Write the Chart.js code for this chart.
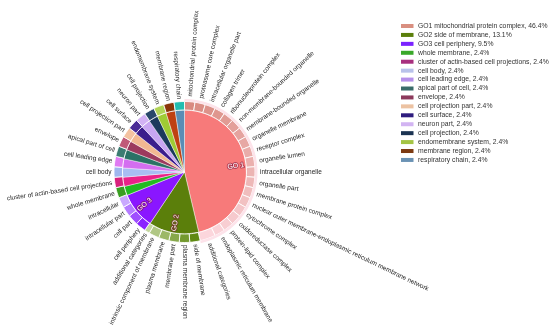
<!DOCTYPE html>
<html><head><meta charset="utf-8">
<script src="https://cdn.jsdelivr.net/npm/chart.js@4.4.1/dist/chart.umd.min.js"></script>
<style>html,body{margin:0;padding:0;background:#fff;}#wrap{width:550px;height:329px;position:relative;}</style>
</head><body><div id="wrap"><canvas id="c" width="550" height="329"></canvas></div>
<script>
// ---- data ----
const groupNames = ['GO1 mitochondrial protein complex','GO2 side of membrane','GO3 cell periphery','whole membrane','cluster of actin-based cell projections','cell body','cell leading edge','apical part of cell','envelope','cell projection part','cell surface','neuron part','cell projection','endomembrane system','membrane region','respiratory chain'];
const groupPercent = [46.4,13.1,9.5,2.4,2.4,2.4,2.4,2.4,2.4,2.4,2.4,2.4,2.4,2.4,2.4,2.4];
const groupTags = ['GO 1','GO 2','GO 3','','','','','','','','','','','','',''];
const termLabels = [
 'mitochondrial protein complex','proteasome core complex','intracellular organelle part','collagen trimer','ribonucleoprotein complex','non-membrane-bounded organelle','membrane-bounded organelle','organelle membrane','receptor complex','organelle lumen','intracellular organelle','organelle part','membrane protein complex','nuclear outer membrane-endoplasmic reticulum membrane network','cytochrome complex','oxidoreductase complex','protein-lipid complex','endoplasmic reticulum membrane','additional categories',
 'side of membrane','plasma membrane region','membrane part','plasma membrane','intrinsic component of membrane','additional categories',
 'cell periphery','cell part','intracellular part','intracellular',
 'whole membrane','cluster of actin-based cell projections','cell body','cell leading edge','apical part of cell','envelope','cell projection part','cell surface','neuron part','cell projection','endomembrane system','membrane region','respiratory chain'];
const termValues = [2,2,2,2,2,2,2,2,2,2,2,2,2,2,2,2,2,2,3, 2,2,2,2,2,1, 2,2,2,2, 2,2,2,2,2,2,2,2,2,2,2,2,2];
const termGroup  = [0,0,0,0,0,0,0,0,0,0,0,0,0,0,0,0,0,0,0, 1,1,1,1,1,1, 2,2,2,2, 3,4,5,6,7,8,9,10,11,12,13,14,15];

// ---- styles ----
const groupColors = ['#f77a7a','#5b7f0b','#8a16ff','#22bb22','#ea2288','#a9bdf2','#d46ef0','#2a7266','#9c3a5e','#f2b892','#3b1c8c','#c9a6f2','#1b3a5c','#9fcb34','#bf4112','#5a8db5'];
const legendColors = ['#d98f80','#5b7f0b','#7a22ff','#3aa82a','#a8307e','#b9c2ea','#b690ea','#3a6c6a','#8c3a5c','#ecc2a2','#2e1c7e','#d2b4f2','#1b3352','#a4c444','#7c3a12','#6a92b4'];
const ringSmall = ['#3a9e22','#d8207c','#9fb6ee','#e07af2','#3c7c72','#c05a78','#f4c2a0','#4a2a96','#d2b2f4','#28486a','#b2d458','#8a3508','#22bdb0'];
const ringGrad = [['#d98a80','#fcd6dc'],['#5f8a12','#c4d6a0'],['#8a22ff','#c9a8ff']];
function hex(c){return [parseInt(c.slice(1,3),16),parseInt(c.slice(3,5),16),parseInt(c.slice(5,7),16)];}
function mix(a,b,t){const A=hex(a),B=hex(b);return 'rgb('+A.map((v,i)=>Math.round(v+(B[i]-v)*t)).join(',')+')';}
const ringColors = termLabels.map((_,i)=>{
  const g = termGroup[i];
  if (g < 3) {
    const idx = termGroup.slice(0,i).filter(x=>x===g).length;
    const n = termGroup.filter(x=>x===g).length;
    return mix(ringGrad[g][0], ringGrad[g][1], n>1 ? idx/(n-1) : 0);
  }
  return ringSmall[g-3];
});
const firstTotal = termValues.filter((_,i)=>termGroup[i]===0).reduce((a,b)=>a+b,0);
const restTotal = termValues.reduce((a,b)=>a+b,0) - firstTotal;

const FONT = '"Liberation Sans", Arial, sans-serif';

const labelPlugin = {
  id:'labels',
  afterDatasetsDraw(chart){
    const ctx = chart.ctx;
    const ring = chart.getDatasetMeta(1);
    const halo = chart.getDatasetMeta(0);
    const haloOuter = halo.data[0].outerRadius;
    ctx.save();
    ctx.font = '6.5px ' + FONT;
    ctx.fillStyle = '#262626';
    ctx.textBaseline = 'middle';
    ring.data.forEach((arc,i)=>{
      const a = (arc.startAngle + arc.endAngle)/2;
      const r = (termGroup[i]===0 ? haloOuter : arc.outerRadius) + 2.5;
      ctx.save();
      ctx.translate(arc.x, arc.y);
      if (Math.cos(a) >= -1e-6) { ctx.rotate(a); ctx.textAlign='left'; ctx.fillText(termLabels[i], r, 0); }
      else { ctx.rotate(a+Math.PI); ctx.textAlign='right'; ctx.fillText(termLabels[i], -r, 0); }
      ctx.restore();
    });
    // inner group tags
    const inner = chart.getDatasetMeta(2);
    ctx.font = '7px ' + FONT;
    inner.data.forEach((arc,i)=>{
      if (!groupTags[i]) return;
      const a = (arc.startAngle + arc.endAngle)/2;
      const r = arc.outerRadius - 2;
      ctx.save();
      ctx.translate(arc.x, arc.y);
      let x;
      if (Math.cos(a) >= 0) { ctx.rotate(a); ctx.textAlign='right'; x = r; }
      else { ctx.rotate(a+Math.PI); ctx.textAlign='left'; x = -r; }
      ctx.lineWidth = 2; ctx.strokeStyle = 'rgba(130,20,60,0.55)'; ctx.lineJoin='round';
      ctx.strokeText(groupTags[i], x, 0);
      ctx.fillStyle = '#fff';
      ctx.fillText(groupTags[i], x, 0);
      ctx.restore();
    });
    ctx.restore();
  },
  afterDraw(chart){
    const ctx = chart.ctx;
    ctx.save();
    ctx.font = '6.8px ' + FONT;
    ctx.textBaseline = 'middle';
    ctx.textAlign = 'left';
    groupNames.forEach((n,i)=>{
      const y = 26 + i*8.93;
      ctx.fillStyle = legendColors[i];
      ctx.fillRect(401, y-2, 12.5, 4);
      ctx.fillStyle = '#333';
      ctx.fillText(n + ', ' + groupPercent[i] + '%', 418, y);
    });
    ctx.restore();
  }
};

new Chart(document.getElementById('c'), {
  type:'pie',
  data:{
    labels: termLabels,
    datasets:[
      {data:[firstTotal, restTotal], backgroundColor:['#fde3ea','rgba(0,0,0,0)'], borderWidth:0, weight:2.5},
      {data:termValues, backgroundColor:ringColors, borderColor:'rgba(255,255,255,0.85)', borderWidth:1, weight:8.5},
      {data:groupPercent, backgroundColor:groupColors, borderColor:'rgba(255,255,255,0.6)', borderWidth:0.7, weight:62}
    ]
  },
  options:{
    responsive:false,
    animation:false,
    devicePixelRatio:1,
    radius:73,
    layout:{padding:{left:0,right:181,top:15,bottom:0}},
    plugins:{legend:{display:false},tooltip:{enabled:false}}
  },
  plugins:[labelPlugin]
});
</script>
</body></html>
